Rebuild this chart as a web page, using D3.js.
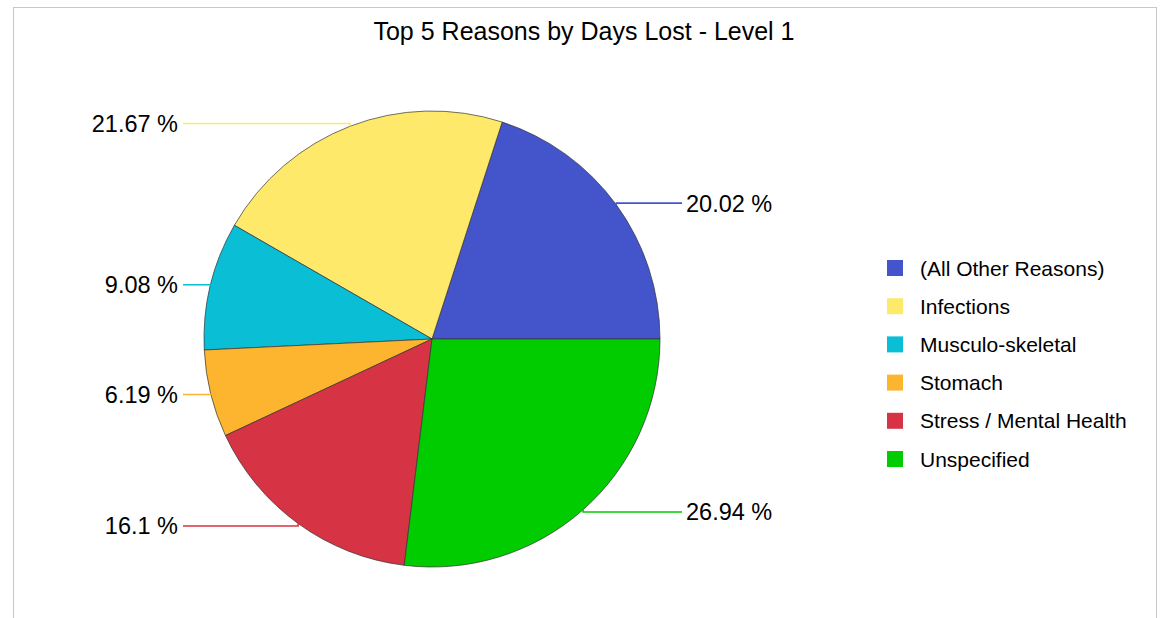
<!DOCTYPE html>
<html>
<head>
<meta charset="utf-8">
<script src="https://cdn.jsdelivr.net/npm/d3@7"></script>
<style>
  html, body { margin: 0; padding: 0; background: #fff; }
  svg { display: block; font-family: "Liberation Sans", Arial, sans-serif; }
</style>
</head>
<body>
<svg id="chart" width="1161" height="618"></svg>
<script>
const title = "Top 5 Reasons by Days Lost - Level 1";
const categories = ["(All Other Reasons)", "Infections", "Musculo-skeletal", "Stomach", "Stress / Mental Health", "Unspecified"];
const values = [20.02, 21.67, 9.08, 6.19, 16.1, 26.94];
const labels = ["20.02 %", "21.67 %", "9.08 %", "6.19 %", "16.1 %", "26.94 %"];
const colors = ["#4454CA", "#FFE96B", "#0ABED6", "#FDB52F", "#D63444", "#00CC00"];

const svg = d3.select("#chart");

// frame
svg.append("rect").attr("x", 13.5).attr("y", 7.5).attr("width", 1143).attr("height", 640)
  .attr("fill", "none").attr("stroke", "#c8c8c8").attr("stroke-width", 1);

svg.append("text").attr("x", 584).attr("y", 40).attr("text-anchor", "middle")
  .attr("font-size", 25).attr("fill", "#000").text(title);

const cx = 432, cy = 339, R = 228;
const data = categories.map((c, i) => ({ name: c, value: values[i], label: labels[i], color: colors[i] }));

const pie = d3.pie().value(d => d.value).sort(null)
  .startAngle(Math.PI / 2).endAngle(Math.PI / 2 - 2 * Math.PI);
const arcs = pie(data);
const arc = d3.arc().innerRadius(0).outerRadius(R);

const g = svg.append("g").attr("transform", `translate(${cx},${cy})`);
g.selectAll("path.slice").data(arcs).join("path")
  .attr("class", "slice")
  .attr("d", arc)
  .attr("fill", d => d.data.color)
  .attr("stroke", "#333")
  .attr("stroke-width", 0.7);

// leader lines + labels
arcs.forEach(a => {
  const mid = (a.startAngle + a.endAngle) / 2;
  const x = Math.sin(mid) * R, y = -Math.cos(mid) * R;
  const ly = -Math.cos(mid) * (R + 3);
  const right = x > 0;
  const endX = right ? 682 - cx : 183 - cx;
  g.append("polyline")
    .attr("points", [[x, y], [x, ly], [endX, ly]].map(p => p.join(",")).join(" "))
    .attr("fill", "none")
    .attr("stroke", a.data.color).attr("stroke-width", 1.6);
  g.append("text")
    .attr("x", right ? endX + 4 : endX - 5)
    .attr("y", ly + 8.5)
    .attr("text-anchor", right ? "start" : "end")
    .attr("font-size", 23.5)
    .attr("fill", "#000")
    .text(a.data.label);
});

// legend
const leg = svg.append("g");
const rowY = d3.scalePoint().domain(categories).range([268, 459]);
categories.forEach((c, i) => {
  const yy = rowY(c);
  leg.append("rect").attr("x", 887).attr("y", yy - 8).attr("width", 16).attr("height", 16)
    .attr("fill", colors[i]);
  leg.append("text").attr("x", 920).attr("y", yy + 7.5).attr("font-size", 21)
    .attr("fill", "#000").text(c);
});
</script>
</body>
</html>
